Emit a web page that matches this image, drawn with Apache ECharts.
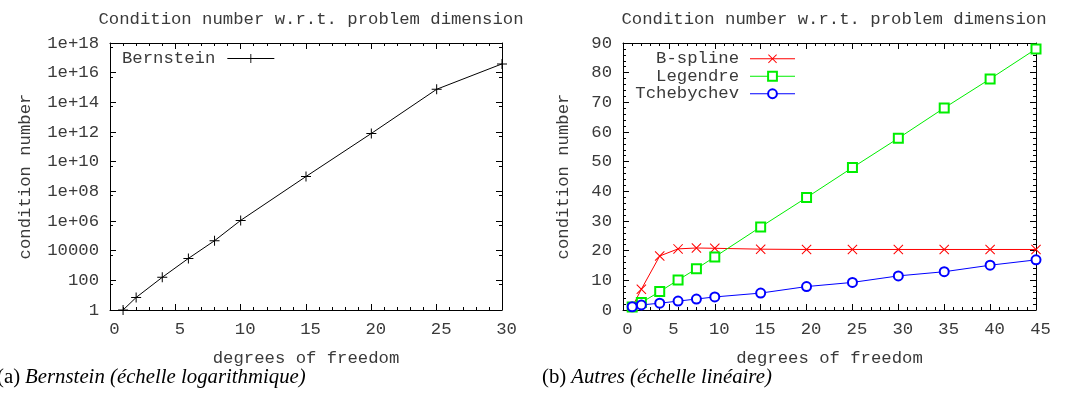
<!DOCTYPE html>
<html><head><meta charset="utf-8">
<script src="https://cdn.jsdelivr.net/npm/echarts@6/dist/echarts.min.js"></script>
<style>html,body{margin:0;padding:0;background:#fff}#c{width:1065px;height:398px}</style>
</head><body><div id="c"></div>
<script>
// ---- data ----
const xLeft = [1, 2, 4, 6, 8, 10, 15, 20, 25, 30];
const bernstein = [1, 7, 160, 3000, 47000, 1.1e6, 1e9, 8e11, 7.6e14, 3.9e16];
const xRight = [1, 2, 4, 6, 8, 10, 15, 20, 25, 30, 35, 40, 45];
const bspline = [1, 7, 18.2, 20.6, 20.9, 20.8, 20.5, 20.4, 20.4, 20.4, 20.4, 20.4, 20.4];
const legendre = [1, 2.5, 6.2, 10.1, 13.9, 17.9, 28, 37.9, 48, 57.9, 68.1, 77.9, 88];
const tcheby = [1.1, 1.7, 2.3, 3.0, 3.7, 4.4, 5.7, 7.9, 9.3, 11.5, 12.9, 15.1, 16.9];
const titleText = 'Condition number w.r.t. problem dimension';
const xName = 'degrees of freedom';
const yName = 'condition number';
const captionA = ['(a)', 'Bernstein (échelle logarithmique)'];
const captionB = ['(b)', 'Autres (échelle linéaire)'];

const mono = 'Liberation Mono';
const txtColor = '#3a3a3a';
const fs = 17.3;
const pair = (xs, ys) => xs.map((x, i) => [x, ys[i]]);

const plusPath = 'path://M0,4.5L10,4.5L10,5.5L0,5.5Z M4.5,0L5.5,0L5.5,10L4.5,10Z';
const crossPath = 'path://M0,0.7L0.7,0L10,9.3L9.3,10Z M9.3,0L10,0.7L0.7,10L0,9.3Z';

function logLabel(v) {
  const e = Math.round(Math.log10(v));
  if (e <= 4) return String(Math.pow(10, e));
  return '1e+' + (e < 10 ? '0' : '') + e;
}

function axisCommon(show) {
  return {
    axisLine: { show: true, onZero: false, lineStyle: { color: '#000', width: 1 } },
    axisTick: { show: true, inside: true, length: 6, lineStyle: { color: '#000', width: 1 } },
    minorTick: { show: true, length: 3, lineStyle: { color: '#000', width: 1 } },
    splitLine: { show: false },
    minorSplitLine: { show: false },
    axisLabel: { show: show, fontFamily: mono, fontSize: fs, color: txtColor }
  };
}

const grids = [
  { left: 110, right: 563, top: 43, bottom: 88 },
  { left: 623, right: 29, top: 43, bottom: 88 }
];

function xAx(grid, max, pos, show) {
  const a = Object.assign(axisCommon(show), {
    type: 'value', gridIndex: grid, min: 0, max: max, interval: 5, position: pos
  });
  a.minorTick.splitNumber = 5;
  if (show) {
    a.axisLabel.margin = 11;
    a.axisLabel.padding = [0, 0, 0, 9];
    a.name = xName; a.nameLocation = 'middle'; a.nameGap = 40;
    a.nameTextStyle = { fontFamily: mono, fontSize: fs, color: txtColor };
  }
  return a;
}

function yLin(grid, pos, show) {
  const a = Object.assign(axisCommon(show), {
    type: 'value', gridIndex: grid, min: 0, max: 90, interval: 10, position: pos
  });
  a.minorTick.splitNumber = 5;
  if (show) {
    a.axisLabel.margin = 11;
    a.name = yName; a.nameLocation = 'middle'; a.nameGap = 51;
    a.nameTextStyle = { fontFamily: mono, fontSize: fs, color: txtColor };
  }
  return a;
}

function yLog(grid, pos, show) {
  const a = Object.assign(axisCommon(show), {
    type: 'log', logBase: 10, gridIndex: grid, min: 1, max: 1e18, interval: 2, position: pos
  });
  a.minorTick.splitNumber = 2;
  if (show) {
    a.axisLabel.margin = 11;
    a.axisLabel.formatter = logLabel;
    a.name = yName; a.nameLocation = 'middle'; a.nameGap = 76;
    a.nameTextStyle = { fontFamily: mono, fontSize: fs, color: txtColor };
  }
  return a;
}

const capRich = {
  n: { fontFamily: 'Liberation Serif', fontSize: 20.8, fontWeight: 'normal', color: '#000' },
  i: { fontFamily: 'Liberation Serif', fontStyle: 'italic', fontWeight: 'normal', fontSize: 20.8, color: '#000' }
};

const option = {
  backgroundColor: '#fff',
  animation: false,
  title: [
    { text: titleText, left: 306, top: 6, textAlign: 'center',
      textStyle: { fontFamily: mono, fontSize: fs, fontWeight: 'normal', color: txtColor } },
    { text: titleText, left: 829, top: 6, textAlign: 'center',
      textStyle: { fontFamily: mono, fontSize: fs, fontWeight: 'normal', color: txtColor } },
    { text: '{n|' + captionA[0] + '} {i|' + captionA[1] + '}', left: -8, top: 362,
      textStyle: { fontWeight: 'normal', rich: capRich } },
    { text: '{n|' + captionB[0] + '} {i|' + captionB[1] + '}', left: 537, top: 362,
      textStyle: { fontWeight: 'normal', rich: capRich } }
  ],
  legend: [
    { data: ['Bernstein'], left: 117, top: 45, orient: 'vertical', align: 'right',
      itemWidth: 47, itemHeight: 11, itemGap: 0,
      lineStyle: { width: 1 },
      textStyle: { fontFamily: mono, fontSize: fs, color: txtColor, padding: [0, 7, 0, 0] } },
    { data: ['B-spline', 'Legendre', 'Tchebychev'], left: 629, top: 45, orient: 'vertical', align: 'right',
      itemWidth: 45, itemHeight: 11, itemGap: 0,
      lineStyle: { width: 1 },
      textStyle: { fontFamily: mono, fontSize: fs, color: txtColor, width: 105, align: 'right',
        lineHeight: 17.5, padding: [0, 6, 0, 0] } }
  ],
  grid: grids,
  xAxis: [xAx(0, 30, 'bottom', true), xAx(0, 30, 'top', false),
          xAx(1, 45, 'bottom', true), xAx(1, 45, 'top', false)],
  yAxis: [yLog(0, 'left', true), yLog(0, 'right', false),
          yLin(1, 'left', true), yLin(1, 'right', false)],
  series: [
    { name: 'Bernstein', type: 'line', xAxisIndex: 0, yAxisIndex: 0,
      data: pair(xLeft, bernstein), symbol: plusPath, symbolSize: 10,
      lineStyle: { color: '#000', width: 1 }, itemStyle: { color: '#000' } },
    { name: 'B-spline', type: 'line', xAxisIndex: 2, yAxisIndex: 2,
      data: pair(xRight, bspline), symbol: crossPath, symbolSize: 10,
      lineStyle: { color: '#ff0000', width: 1 }, itemStyle: { color: '#ff0000' } },
    { name: 'Legendre', type: 'line', xAxisIndex: 2, yAxisIndex: 2,
      data: pair(xRight, legendre), symbol: 'emptyRect', symbolSize: 9,
      lineStyle: { color: '#00ee00', width: 1 }, itemStyle: { color: '#00ee00', borderWidth: 1 } },
    { name: 'Tchebychev', type: 'line', xAxisIndex: 2, yAxisIndex: 2,
      data: pair(xRight, tcheby), symbol: 'emptyCircle', symbolSize: 9,
      lineStyle: { color: '#0000ff', width: 1 }, itemStyle: { color: '#0000ff', borderWidth: 1 } }
  ]
};
const chart = echarts.init(document.getElementById('c'), null, { renderer: 'canvas' });
chart.setOption(option);
</script></body></html>
